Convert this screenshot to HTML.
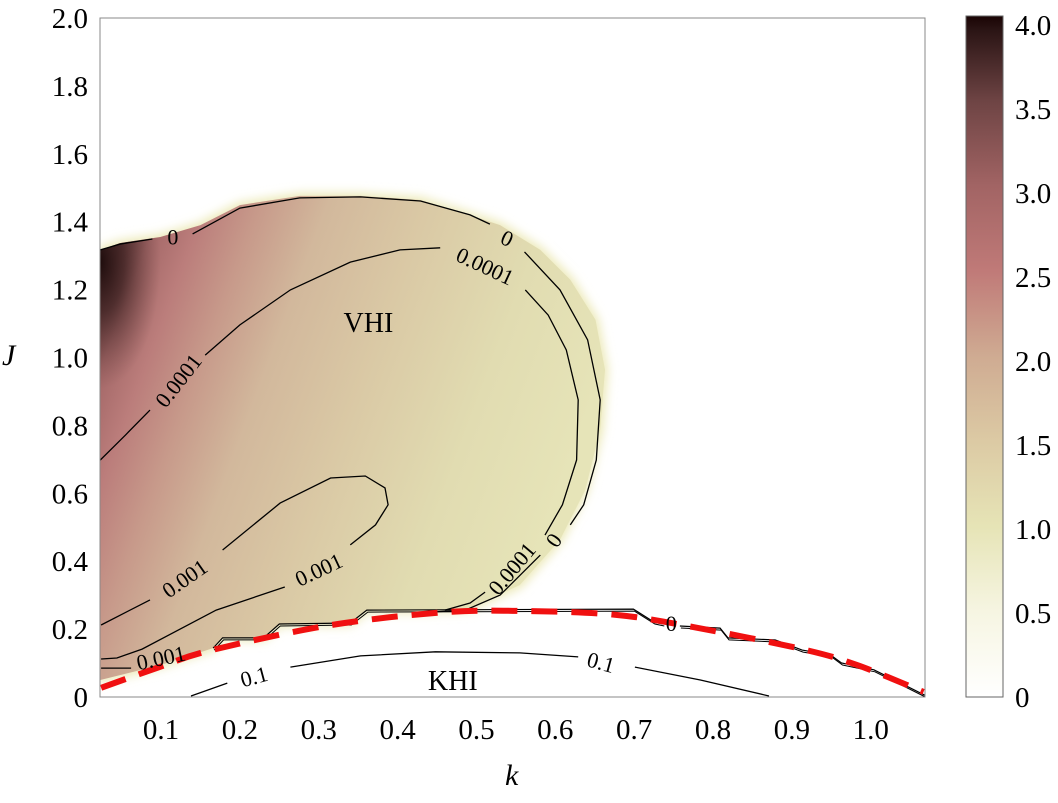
<!DOCTYPE html>
<html><head><meta charset="utf-8"><style>
body{margin:0;background:#fff}
svg{display:block;font-family:"Liberation Serif",serif}
</style></head><body>
<svg id="chart" width="1058" height="803" viewBox="0 0 1058 803">
<defs>
<linearGradient id="heat" gradientUnits="userSpaceOnUse" x1="100" y1="300" x2="570" y2="475">
<stop offset="0" stop-color="#7a4a4a"/>
<stop offset="0.05" stop-color="#a46868"/>
<stop offset="0.13" stop-color="#bb7d7b"/>
<stop offset="0.23" stop-color="#c7998a"/>
<stop offset="0.36" stop-color="#d2b89c"/>
<stop offset="0.55" stop-color="#dac9a5"/>
<stop offset="0.78" stop-color="#e1dcb1"/>
<stop offset="1" stop-color="#e6e4b8"/>
</linearGradient>
<radialGradient id="dark" gradientUnits="userSpaceOnUse" cx="100" cy="262" r="110" gradientTransform="translate(100 262) scale(0.55 1.15) translate(-100 -262)">
<stop offset="0" stop-color="#1e0c0c" stop-opacity="1"/>
<stop offset="0.4" stop-color="#3e2222" stop-opacity="0.8"/>
<stop offset="1" stop-color="#6a4040" stop-opacity="0"/>
</radialGradient>
<linearGradient id="cbar" x1="0" y1="1" x2="0" y2="0">
<stop offset="0" stop-color="#ffffff"/>
<stop offset="0.125" stop-color="#f6f5e2"/>
<stop offset="0.25" stop-color="#e6e4b6"/>
<stop offset="0.375" stop-color="#dccaa4"/>
<stop offset="0.5" stop-color="#cfab92"/>
<stop offset="0.625" stop-color="#c07a78"/>
<stop offset="0.75" stop-color="#a26464"/>
<stop offset="0.875" stop-color="#6e4444"/>
<stop offset="0.98" stop-color="#2a1414"/>
<stop offset="1" stop-color="#1a0404"/>
</linearGradient>
<filter id="blur" x="-10%" y="-10%" width="120%" height="120%"><feGaussianBlur stdDeviation="5"/></filter>
<clipPath id="plotclip"><rect x="100" y="18" width="825" height="679"/></clipPath>
<clipPath id="regclip"><path id="regpath" d=""/></clipPath>
</defs>
<g id="plot" clip-path="url(#plotclip)"></g>
<rect x="100" y="18" width="825" height="679" fill="none" stroke="#888" stroke-width="1"/>
<g id="axes"></g>
<rect x="966" y="16" width="37" height="681" fill="url(#cbar)" stroke="#666"/>
<text x="2" y="365" font-size="30" font-style="italic">J</text>
<text x="505" y="785" font-size="30" font-style="italic">k</text>
</svg>
<script>
const xTicks=[0.1,0.2,0.3,0.4,0.5,0.6,0.7,0.8,0.9,1.0];
const xTickLabels=["0.1","0.2","0.3","0.4","0.5","0.6","0.7","0.8","0.9","1.0"];
const yTicks=[0,0.2,0.4,0.6,0.8,1.0,1.2,1.4,1.6,1.8,2.0];
const yTickLabels=["0","0.2","0.4","0.6","0.8","1.0","1.2","1.4","1.6","1.8","2.0"];
const cbTicks=[0,0.5,1.0,1.5,2.0,2.5,3.0,3.5,4.0];
const cbTickLabels=["0","0.5","1.0","1.5","2.0","2.5","3.0","3.5","4.0"];
const regionK=[.023,.048,.099,.150,.200,.276,.353,.429,.479,.530,.581,.619,.651,.663,.657,.638,.606,.555,.492,.441,.361,.340,.250,.230,.178,.166,.099,.023];
const regionJ=[1.317,1.337,1.355,1.390,1.449,1.476,1.476,1.464,1.429,1.390,1.317,1.229,1.111,.964,.788,.610,.463,.330,.262,.256,.256,.218,.215,.174,.174,.144,.094,.050];
const zeroK=[.023,.048,.089,null,.140,.200,.276,.353,.429,.492,.517,null,.561,.606,.641,.657,.652,.636,.619,null,.581,.530,.486,.441];
const zeroJ=[1.317,1.334,1.349,null,1.364,1.440,1.470,1.473,1.461,1.420,1.393,null,1.311,1.199,1.052,.875,.698,.566,.507,null,.418,.300,.256,.250];
const c4K=[.023,.055,.086,null,.156,.200,.264,.340,.403,.454,null,.562,.591,.614,.629,.627,.609,.587,null,.511,.492,.460];
const c4J=[.698,.772,.845,null,1.007,1.096,1.199,1.281,1.317,1.323,null,1.199,1.125,1.022,.875,.698,.566,.477,null,.309,.277,.256];
const c3K=[.024,.086,null,.178,.251,.315,.359,.384,.388,.372,.340,null,.257,.170,.076,.044,.024];
const c3J=[.212,.286,null,.433,.571,.645,.651,.616,.566,.507,.448,null,.324,.256,.141,.115,.112];
const c3bK=[.024,.062];
const c3bJ=[.085,.085];
const stepK=[.166,.178,.230,.250,.340,.361,.699,.725,.737,null,.758,.809,.819,.879,.913,.949,.963,1.004,1.073];
const stepJ=[.144,.174,.174,.215,.218,.256,.259,.221,.215,null,.209,.203,.174,.168,.138,.124,.100,.080,0];
const khiK=[.138,.184,null,.264,.353,.448,.555,.629,null,.701,.784,.871];
const khiJ=[.003,.041,null,.088,.121,.133,.130,.118,null,.088,.050,.003];
const redK=[.024,.094,.164,.316,.462,.566,.677,.775,.913,.983,1.067];
const redJ=[.027,.085,.138,.212,.250,.253,.242,.206,.141,.094,.015];
const labelText=["0","0","0","0.0001","0.0001","0.0001","0.001","0.001","0.001","0","0.1","0.1","VHI","KHI"];
const labelK=[.115,.539,.598,.122,.511,.545,.130,.300,.100,.747,.218,.658,.363,.470];
const labelJ=[1.355,1.351,.462,.932,1.269,.378,.349,.375,.115,.217,.060,.102,1.100,.045];
const labelRot=[0,25,-55,-52,25,-50,-35,-25,-12,0,-15,15,0,0];
const labelSize=[22,22,22,22,22,22,22,22,22,22,22,22,28,28];

const X=k=>82.2+k*788.5, Y=j=>697-j*339.5, CY=v=>697-v*168;
const NS="http://www.w3.org/2000/svg";
const plot=document.getElementById('plot'), axes=document.getElementById('axes');
function mk(tag,attrs,parent){const e=document.createElementNS(NS,tag);for(const a in attrs)e.setAttribute(a,attrs[a]);parent.appendChild(e);return e;}
function pathD(ks,js){let d="",pen=false;for(let i=0;i<ks.length;i++){if(ks[i]===null){pen=false;continue;}d+=(pen?"L":"M")+X(ks[i]).toFixed(1)+","+Y(js[i]).toFixed(1);pen=true;}return d;}
function smoothD(ks,js){const p=ks.map((k,i)=>[X(k),Y(js[i])]);let d="M"+p[0][0]+","+p[0][1];for(let i=0;i<p.length-1;i++){const p0=p[Math.max(i-1,0)],p1=p[i],p2=p[i+1],p3=p[Math.min(i+2,p.length-1)];d+="C"+(p1[0]+(p2[0]-p0[0])/6)+","+(p1[1]+(p2[1]-p0[1])/6)+" "+(p2[0]-(p3[0]-p1[0])/6)+","+(p2[1]-(p3[1]-p1[1])/6)+" "+p2[0]+","+p2[1];}return d;}
const regD=pathD(regionK,regionJ)+"Z";
document.getElementById('regpath').setAttribute('d',regD);
const glow=mk('path',{d:regD,fill:"#ece9b8",stroke:"#ece9b8","stroke-width":6,filter:"url(#blur)"},plot);


const reg=mk('path',{d:regD,fill:"url(#heat)"},plot);


const dk=mk('rect',{x:100,y:200,width:200,height:300,fill:"url(#dark)","clip-path":"url(#regclip)"},plot);


const lines=[[zeroK,zeroJ,'contour-0'],[c4K,c4J,'contour-0.0001'],[c3K,c3J,'contour-0.001'],[c3bK,c3bJ,'contour-0.001-lower'],[khiK,khiJ,'contour-0.1-khi']];
lines.forEach(l=>{const e=mk('path',{d:pathD(l[0],l[1]),fill:"none",stroke:"#000","stroke-width":1.3},plot);

});
const s1=mk('path',{d:pathD(stepK,stepJ),fill:"none",stroke:"#000","stroke-width":1.2},plot);


const s2=mk('path',{d:pathD(stepK,stepJ),fill:"none",stroke:"#000","stroke-width":1,transform:"translate(1,2)"},plot);


const red=mk('path',{d:smoothD(redK,redJ),fill:"none",stroke:"#f01010","stroke-width":6,"stroke-dasharray":"26,14"},plot);


labelText.forEach((t,i)=>{const x=X(labelK[i]),y=Y(labelJ[i]);const e=mk('text',{x:x,y:y,"font-size":labelSize[i],"text-anchor":"middle","dominant-baseline":"central",transform:`rotate(${labelRot[i]} ${x} ${y})`},plot);e.textContent=t;

});
xTicks.forEach((v,i)=>{const e=mk('text',{x:X(v),y:739,"font-size":29,"text-anchor":"middle"},axes);e.textContent=xTickLabels[i];

});
yTicks.forEach((v,i)=>{const e=mk('text',{x:88,y:Y(v)+10,"font-size":29,"text-anchor":"end"},axes);e.textContent=yTickLabels[i];

});
cbTicks.forEach((v,i)=>{const e=mk('text',{x:1015,y:CY(v)+10,"font-size":29},axes);e.textContent=cbTickLabels[i];


const t=mk('line',{x1:996,x2:1003,y1:CY(v),y2:CY(v),stroke:"#444","stroke-width":1},axes);

});
</script>
</body></html>
